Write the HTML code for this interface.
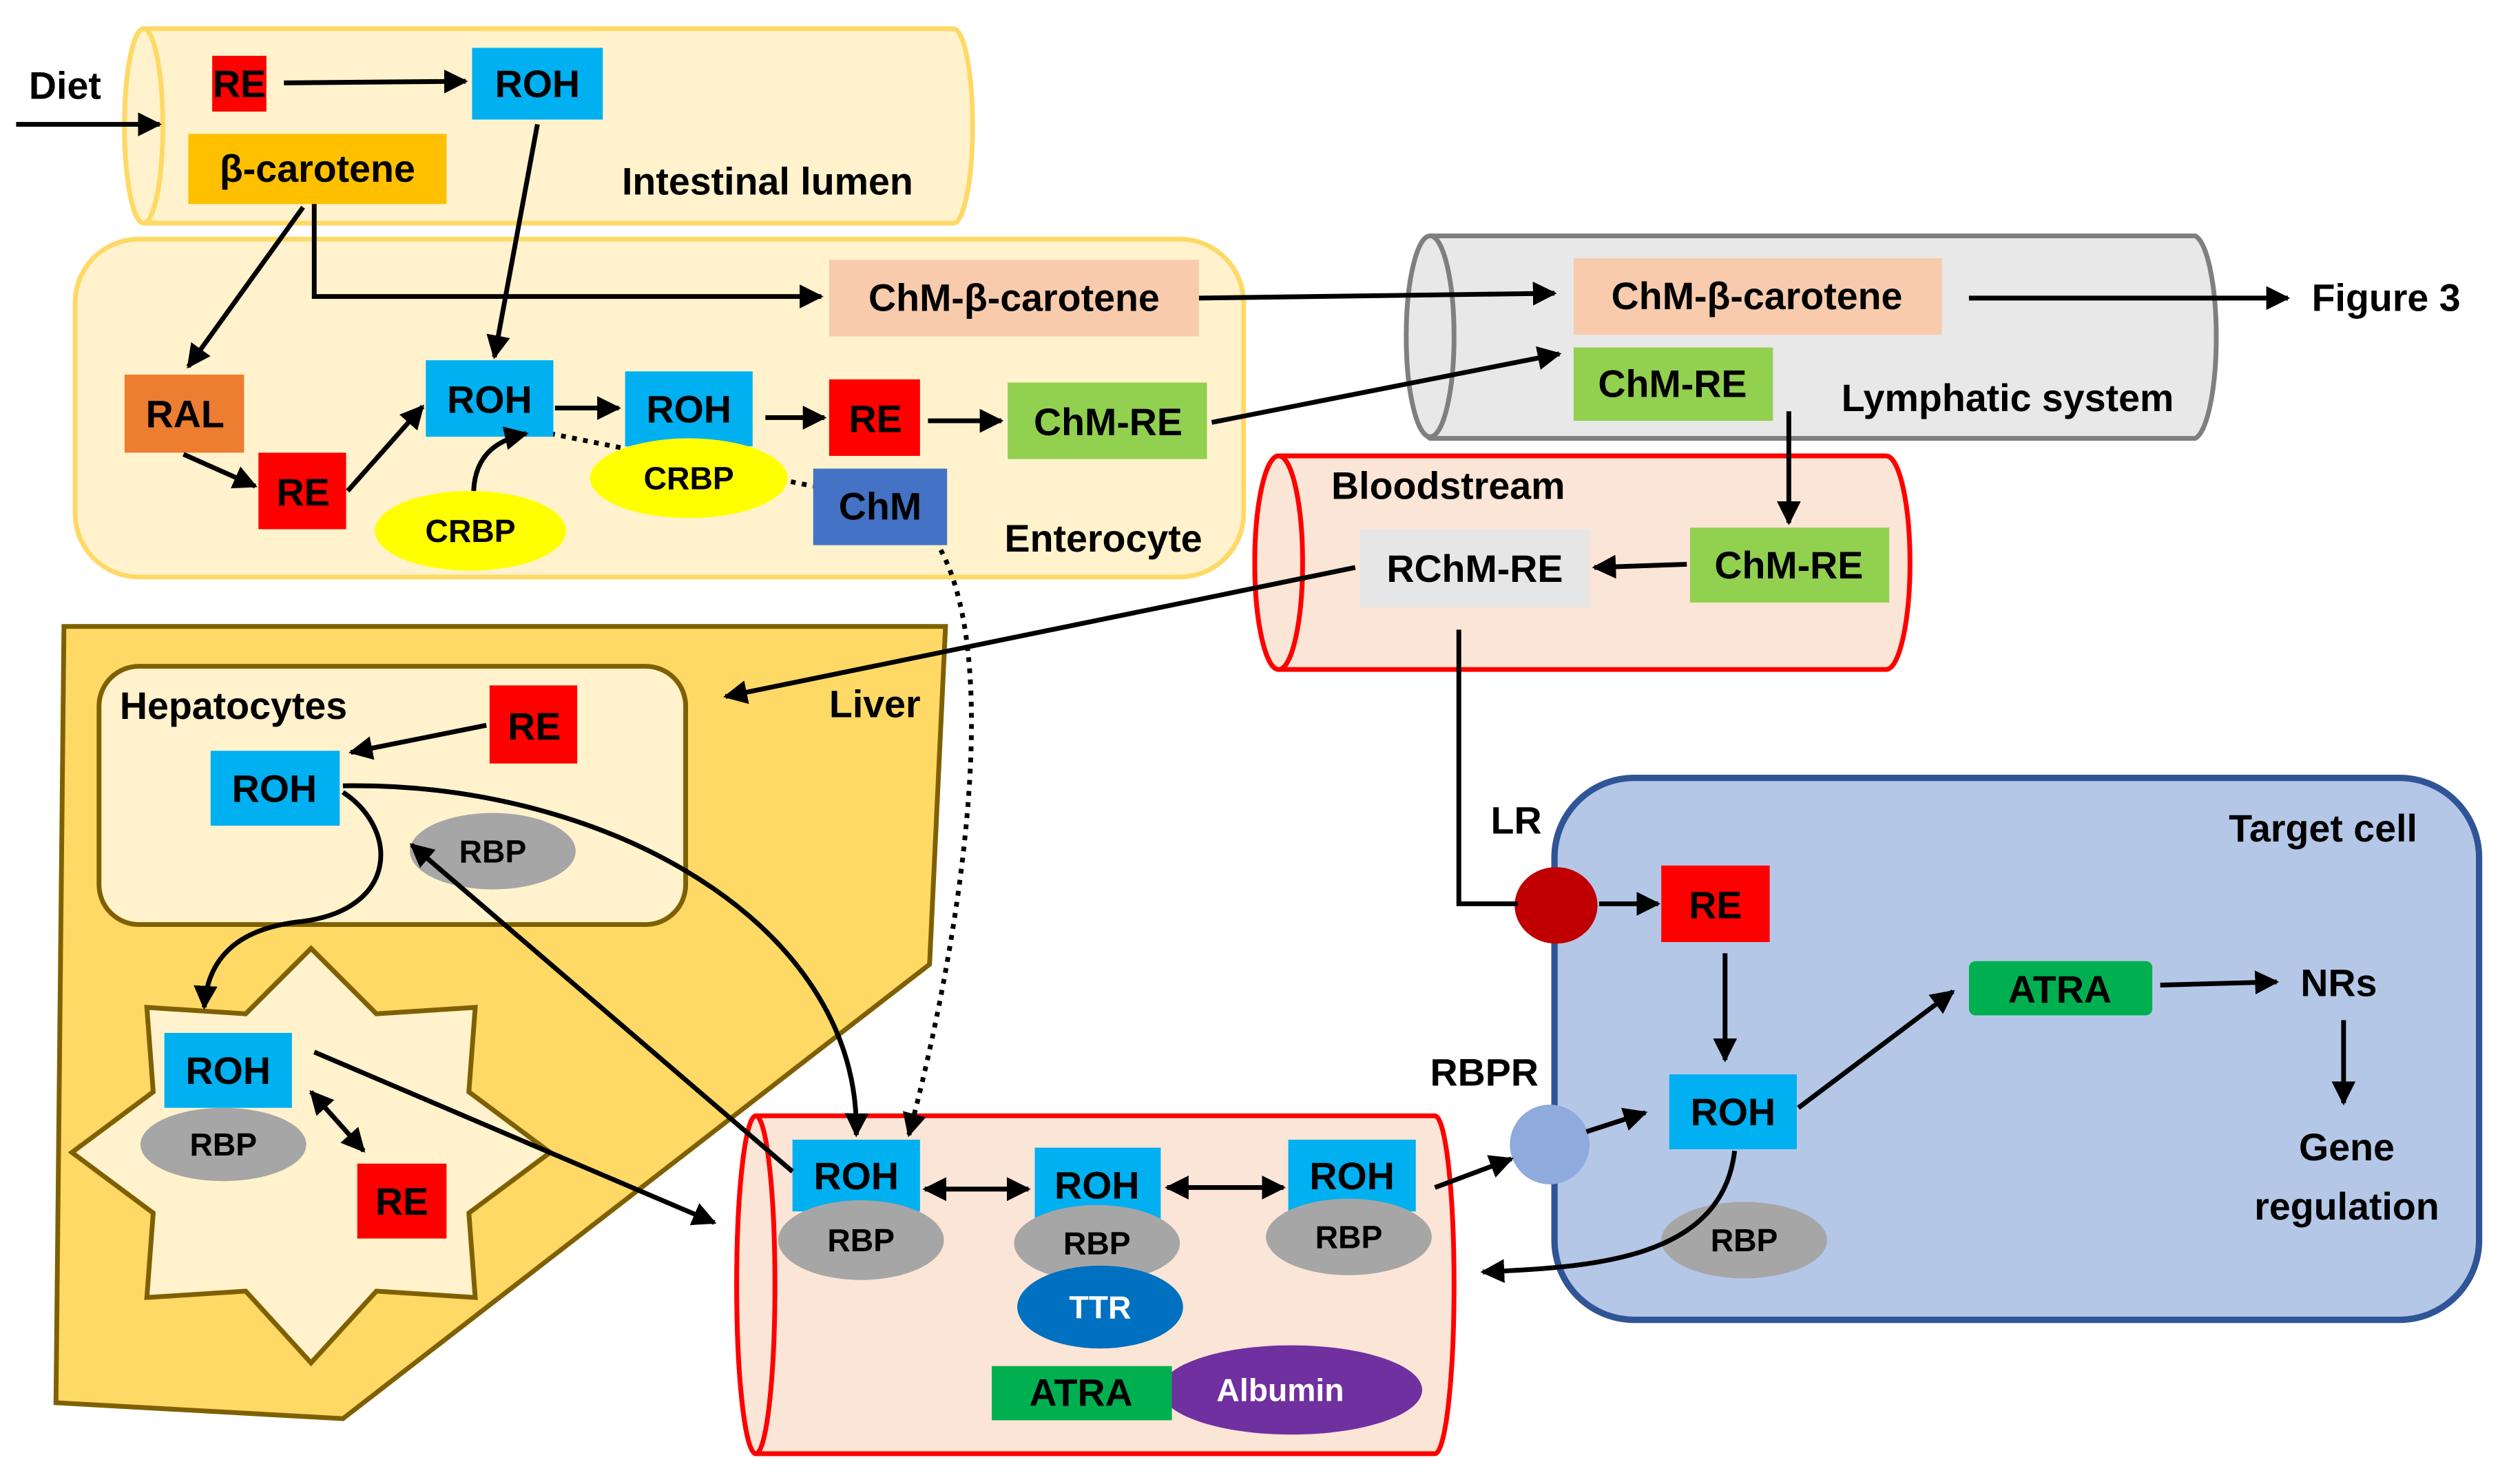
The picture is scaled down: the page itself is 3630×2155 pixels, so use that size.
<!DOCTYPE html>
<html><head><meta charset="utf-8"><style>
html,body{margin:0;padding:0;background:#fff}
svg{display:block}
text{font-family:"Liberation Sans",sans-serif;font-weight:bold;fill:#000}
</style></head><body>
<svg width="3630" height="2155" viewBox="0 0 1568 931" xmlns="http://www.w3.org/2000/svg">
<defs>
<marker id="a" viewBox="0 0 10 10" refX="9" refY="5" markerWidth="5" markerHeight="5" orient="auto-start-reverse"><path d="M0,0L10,5L0,10z" fill="#000"/></marker>
</defs>
<rect width="1568" height="931" fill="#fff"/>

<path d="M90,18 H598 A12,61 0 0 1 598,140 H90 A12,61 0 0 1 90,18z" fill="#FFF2CC" stroke="#FFD966" stroke-width="3"/>
<ellipse cx="90" cy="79" rx="12" ry="61" fill="#FFF2CC" stroke="#FFD966" stroke-width="3"/>
<rect x="47" y="150" width="733" height="212" rx="40" fill="#FFF2CC" stroke="#FFD966" stroke-width="3"/>
<path d="M897,148 H1377 A15,64 0 0 1 1377,275 H897 A15,64 0 0 1 897,148z" fill="#E8E8E8" stroke="#7F7F7F" stroke-width="3"/>
<ellipse cx="897" cy="211" rx="15" ry="63" fill="#E8E8E8" stroke="#7F7F7F" stroke-width="3"/>
<path d="M802,286 H1183 A15,67 0 0 1 1183,420 H802 A15,67 0 0 1 802,286z" fill="#FBE5D6" stroke="#FF0000" stroke-width="3"/>
<ellipse cx="802" cy="353" rx="15" ry="67" fill="#FBE5D6" stroke="#FF0000" stroke-width="3"/>
<polygon points="40,393 593,393 583,605 215,890 35,880" fill="#FFD966" stroke="#7F6000" stroke-width="3"/>
<rect x="62" y="418" width="368" height="162" rx="25" fill="#FFF2CC" stroke="#7F6000" stroke-width="3"/>
<polygon points="195,595 236,636 298,632 294,685 345,723 294,761 298,814 236,810 195,855 154,810 92,814 96,761 45,723 96,685 92,632 154,636" fill="#FFF2CC" stroke="#7F6000" stroke-width="3"/>
<path d="M474,700 H900 A12,106 0 0 1 900,912 H474 A12,106 0 0 1 474,700z" fill="#FBE5D6" stroke="#FF0000" stroke-width="3"/>
<ellipse cx="474" cy="806" rx="12" ry="106" fill="#FBE5D6" stroke="#FF0000" stroke-width="3"/>
<rect x="975" y="488" width="580" height="340" rx="50" fill="#B4C7E7" stroke="#2F5597" stroke-width="4"/>

<line x1="345" y1="272" x2="510" y2="305" stroke="#000" stroke-width="3" stroke-dasharray="3,4"/>

<g>
<rect x="133" y="35" width="34" height="35" fill="#FF0000"/>
<rect x="296" y="30" width="82" height="45" fill="#00B0F0"/>
<rect x="118" y="84" width="162" height="44" fill="#FFC000"/>
<rect x="520" y="163" width="232" height="48" fill="#F8CBAD"/>
<rect x="78" y="235" width="75" height="49" fill="#ED7D31"/>
<rect x="162" y="284" width="55" height="48" fill="#FF0000"/>
<rect x="267" y="226" width="80" height="48" fill="#00B0F0"/>
<rect x="392" y="233" width="80" height="47" fill="#00B0F0"/>
<rect x="520" y="238" width="57" height="48" fill="#FF0000"/>
<rect x="632" y="240" width="125" height="48" fill="#92D050"/>
<ellipse cx="295" cy="333" rx="60" ry="25" fill="#FFFF00"/>
<ellipse cx="432" cy="300" rx="62" ry="25" fill="#FFFF00"/>
<rect x="510" y="294" width="84" height="48" fill="#4472C4"/>
<rect x="987" y="162" width="231" height="48" fill="#F8CBAD"/>
<rect x="987" y="218" width="125" height="46" fill="#92D050"/>
<rect x="853" y="332" width="144" height="49" fill="#E7E6E6"/>
<rect x="1060" y="331" width="125" height="47" fill="#92D050"/>
<rect x="307" y="430" width="55" height="49" fill="#FF0000"/>
<rect x="132" y="471" width="81" height="47" fill="#00B0F0"/>
<ellipse cx="309" cy="534" rx="52" ry="24" fill="#A6A6A6"/>
<rect x="103" y="648" width="80" height="47" fill="#00B0F0"/>
<ellipse cx="140" cy="718" rx="52" ry="23" fill="#A6A6A6"/>
<rect x="224" y="730" width="56" height="47" fill="#FF0000"/>
<rect x="497" y="715" width="80" height="45" fill="#00B0F0"/>
<ellipse cx="540" cy="778" rx="52" ry="25" fill="#A6A6A6"/>
<rect x="649" y="720" width="79" height="46" fill="#00B0F0"/>
<ellipse cx="688" cy="780" rx="52" ry="24" fill="#A6A6A6"/>
<ellipse cx="690" cy="820" rx="52" ry="26" fill="#0070C0"/>
<rect x="808" y="715" width="80" height="45" fill="#00B0F0"/>
<ellipse cx="846" cy="776" rx="52" ry="24" fill="#A6A6A6"/>
<ellipse cx="810" cy="872" rx="82" ry="28" fill="#7030A0"/>
<rect x="622" y="857" width="113" height="34" fill="#00B050"/>
<ellipse cx="976" cy="568" rx="26" ry="24" fill="#C00000"/>
<circle cx="972" cy="718" r="25" fill="#8FAADC"/>
<rect x="1042" y="543" width="68" height="48" fill="#FF0000"/>
<rect x="1047" y="674" width="80" height="47" fill="#00B0F0"/>
<rect x="1235" y="603" width="115" height="34" rx="4" fill="#00B050"/>
<ellipse cx="1094" cy="778" rx="52" ry="24" fill="#A6A6A6"/>
</g>

<g stroke="#000" stroke-width="3" fill="none" marker-end="url(#a)">
<line x1="10" y1="78" x2="100" y2="78"/>
<line x1="178" y1="52" x2="292" y2="51"/>
<polyline points="197,128 197,186 515,186"/>
<line x1="190" y1="130" x2="118" y2="230"/>
<line x1="337" y1="78" x2="310" y2="224"/>
<line x1="115" y1="285" x2="160" y2="305"/>
<line x1="218" y1="308" x2="265" y2="255"/>
<path d="M297,308 C298,285 312,276 330,272"/>
<line x1="348" y1="256" x2="388" y2="256"/>
<line x1="480" y1="262" x2="517" y2="262"/>
<line x1="582" y1="264" x2="628" y2="264"/>
<line x1="752" y1="187" x2="975" y2="184"/>
<line x1="760" y1="265" x2="978" y2="222"/>
<line x1="1235" y1="187" x2="1435" y2="187"/>
<line x1="1122" y1="258" x2="1122" y2="328"/>
<line x1="1058" y1="354" x2="1000" y2="356"/>
<line x1="850" y1="356" x2="455" y2="437"/>
<line x1="1003" y1="567" x2="1040" y2="567"/>
<line x1="305" y1="455" x2="220" y2="472"/>
<path d="M215,497 C250,520 250,570 190,578 C150,582 130,600 128,632"/>
<path d="M215,493 C380,490 540,580 537,712"/>
<line x1="497" y1="735" x2="258" y2="530"/>
<line x1="197" y1="660" x2="448" y2="767"/>
<line x1="1082" y1="598" x2="1082" y2="665"/>
<line x1="1128" y1="695" x2="1225" y2="622"/>
<line x1="1355" y1="618" x2="1428" y2="616"/>
<line x1="1470" y1="640" x2="1470" y2="692"/>
<line x1="995" y1="710" x2="1032" y2="698"/>
<line x1="900" y1="745" x2="948" y2="727"/>
<path d="M1088,722 C1080,790 1000,795 930,798"/>
<line x1="195" y1="685" x2="228" y2="722" marker-start="url(#a)"/>
<line x1="580" y1="746" x2="645" y2="746" marker-start="url(#a)"/>
<line x1="732" y1="745" x2="805" y2="745" marker-start="url(#a)"/>
<path d="M590,345 C630,420 600,600 570,712" stroke-dasharray="3,4"/>
</g>
<polyline points="915,395 915,567 952,567" stroke="#000" stroke-width="3" fill="none"/>

<g font-size="24" text-anchor="middle">
<text x="150" y="61">RE</text>
<text x="337" y="61">ROH</text>
<text x="199" y="114">β-carotene</text>
<text x="636" y="195">ChM-β-carotene</text>
<text x="116" y="268">RAL</text>
<text x="190" y="317">RE</text>
<text x="307" y="259">ROH</text>
<text x="432" y="265">ROH</text>
<text x="549" y="271">RE</text>
<text x="695" y="273">ChM-RE</text>
<text x="552" y="326">ChM</text>
<text x="1102" y="194">ChM-β-carotene</text>
<text x="1049" y="249">ChM-RE</text>
<text x="925" y="365">RChM-RE</text>
<text x="1122" y="363">ChM-RE</text>
<text x="335" y="464">RE</text>
<text x="172" y="503">ROH</text>
<text x="143" y="680">ROH</text>
<text x="252" y="762">RE</text>
<text x="537" y="746">ROH</text>
<text x="688" y="752">ROH</text>
<text x="848" y="746">ROH</text>
<text x="678" y="882">ATRA</text>
<text x="1076" y="576">RE</text>
<text x="1087" y="706">ROH</text>
<text x="1292" y="629">ATRA</text>
</g>
<g font-size="20" text-anchor="middle">
<text x="295" y="340">CRBP</text>
<text x="432" y="307">CRBP</text>
<text x="309" y="541">RBP</text>
<text x="140" y="725">RBP</text>
<text x="540" y="785">RBP</text>
<text x="688" y="787">RBP</text>
<text x="690" y="827" style="fill:#fff">TTR</text>
<text x="846" y="783">RBP</text>
<text x="803" y="879" style="fill:#fff">Albumin</text>
<text x="1094" y="785">RBP</text>
</g>
<g font-size="24">
<text x="18" y="62">Diet</text>
<text x="390" y="122">Intestinal lumen</text>
<text x="630" y="346">Enterocyte</text>
<text x="1155" y="258">Lymphatic system</text>
<text x="1450" y="195">Figure 3</text>
<text x="835" y="313">Bloodstream</text>
<text x="520" y="450">Liver</text>
<text x="75" y="451">Hepatocytes</text>
<text x="935" y="523">LR</text>
<text x="897" y="681">RBPR</text>
<text x="1398" y="528">Target cell</text>
<text x="1443" y="625">NRs</text>
<text x="1472" y="728" text-anchor="middle">Gene</text>
<text x="1472" y="765" text-anchor="middle">regulation</text>
</g>
</svg>
</body></html>
